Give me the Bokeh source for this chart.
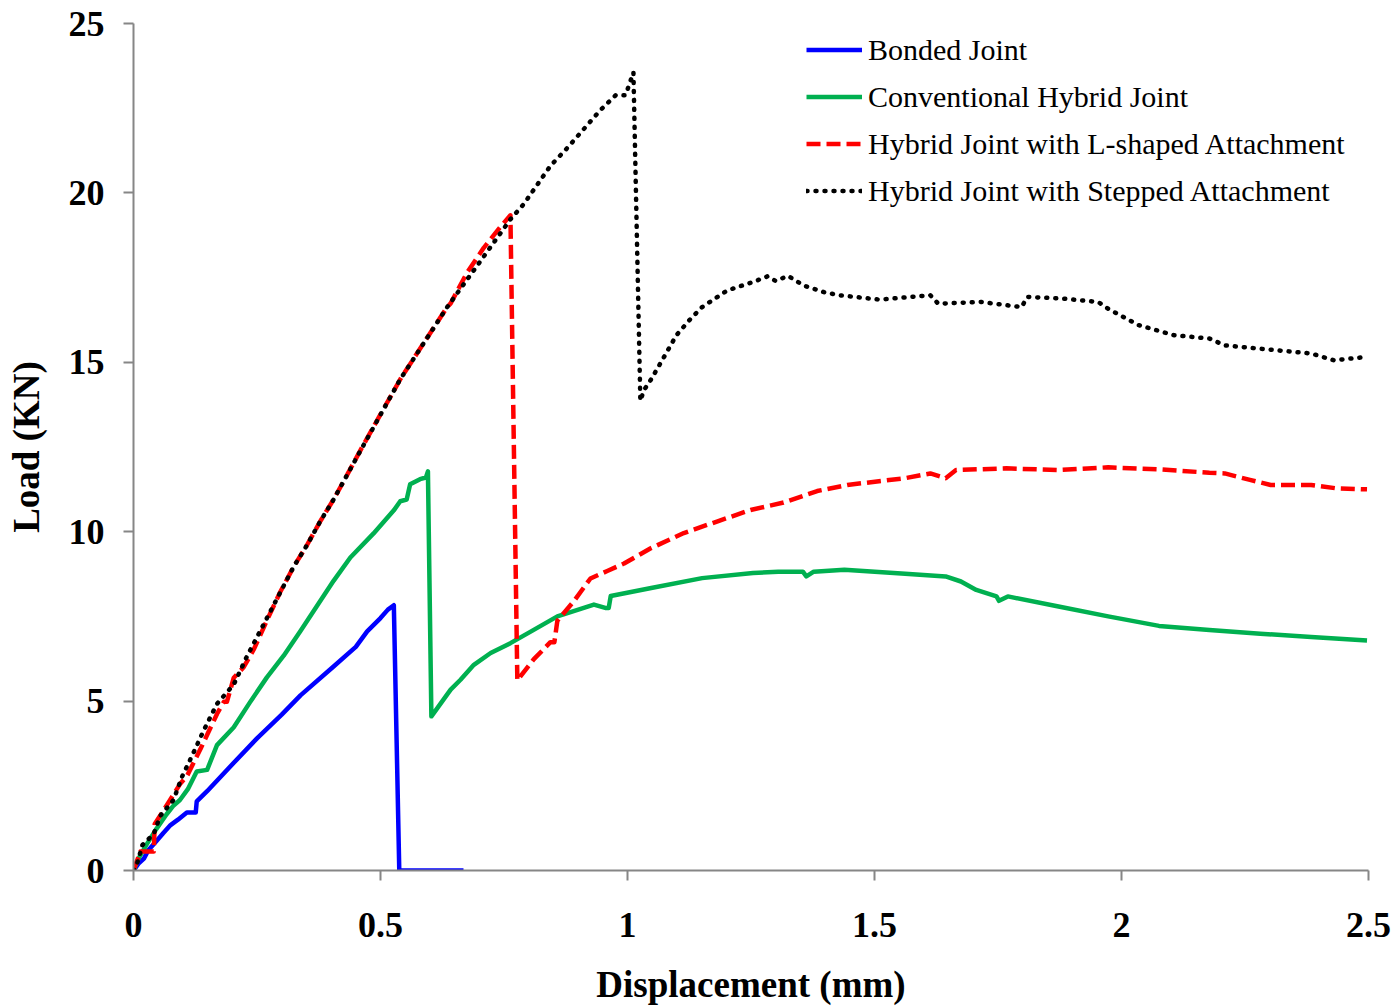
from bokeh.plotting import figure
from bokeh.models import Range1d, FixedTicker, CustomJSTickFormatter, Legend, LegendItem
from bokeh.embed import file_html
from bokeh.resources import INLINE

# ---- data ----
bonded_x = [0, 0.01, 0.021, 0.03, 0.047, 0.06, 0.075, 0.09, 0.108, 0.126, 0.128, 0.149, 0.203, 0.25,
            0.30, 0.338, 0.405, 0.45, 0.473, 0.50, 0.515, 0.527, 0.538, 0.668]
bonded_y = [0, 0.2, 0.35, 0.6, 0.88, 1.1, 1.34, 1.5, 1.71, 1.71, 2.04, 2.34, 3.18, 3.9,
            4.6, 5.17, 6.02, 6.6, 7.06, 7.45, 7.7, 7.83, 0, 0]

conv_x = [0, 0.01, 0.027, 0.045, 0.067, 0.08, 0.094, 0.11, 0.128, 0.149, 0.169, 0.203, 0.236, 0.27,
          0.304, 0.338, 0.371, 0.405, 0.439, 0.486, 0.527, 0.540, 0.553, 0.560, 0.580, 0.592, 0.596,
          0.603, 0.642, 0.662, 0.689, 0.723, 0.763, 0.804, 0.858, 0.932, 0.955, 0.962, 0.966, 1.048,
          1.151, 1.254, 1.305, 1.355, 1.362, 1.377, 1.439, 1.562, 1.644, 1.675, 1.706, 1.747, 1.752,
          1.77, 1.87, 1.973, 2.076, 2.178, 2.281, 2.384, 2.497]
conv_y = [0, 0.35, 0.78, 1.2, 1.66, 1.9, 2.08, 2.4, 2.92, 2.97, 3.7, 4.23, 4.97, 5.7,
          6.34, 7.07, 7.8, 8.55, 9.24, 9.95, 10.63, 10.9, 10.95, 11.4, 11.55, 11.6, 11.78,
          4.55, 5.34, 5.63, 6.07, 6.42, 6.71, 7.05, 7.5, 7.85, 7.75, 7.75, 8.1, 8.34,
          8.63, 8.78, 8.82, 8.82, 8.68, 8.82, 8.88, 8.76, 8.68, 8.53, 8.28, 8.09, 7.96,
          8.09, 7.8, 7.5, 7.22, 7.1, 6.99, 6.89, 6.79]

lshape_x = [0, 0.014, 0.041, 0.043, 0.068, 0.095, 0.108, 0.136, 0.169, 0.183, 0.189, 0.203, 0.223,
            0.244, 0.27, 0.297, 0.324, 0.351, 0.379, 0.405, 0.433, 0.463, 0.540, 0.635, 0.642, 0.675,
            0.709, 0.743, 0.763, 0.777, 0.810, 0.844, 0.852, 0.858, 0.891, 0.925, 0.959, 0.993, 1.047,
            1.114, 1.181, 1.249, 1.316, 1.384, 1.445, 1.562, 1.613, 1.644, 1.665, 1.767, 1.87, 1.973,
            2.076, 2.178, 2.209, 2.26, 2.302, 2.384, 2.435, 2.497]
lshape_y = [0, 0.56, 0.56, 1.37, 1.94, 2.57, 2.78, 3.6, 4.62, 4.98, 4.98, 5.69, 6.0,
            6.54, 7.38, 8.22, 8.96, 9.6, 10.33, 10.95, 11.69, 12.5, 14.5, 16.63, 16.74, 17.64,
            18.38, 19.0, 19.34, 5.61, 6.23, 6.74, 6.74, 7.37, 7.94, 8.62, 8.84, 9.06, 9.51,
            9.96, 10.30, 10.64, 10.86, 11.2, 11.38, 11.58, 11.72, 11.58, 11.82, 11.87, 11.82, 11.90,
            11.84, 11.74, 11.72, 11.53, 11.38, 11.38, 11.28, 11.25]

stepped_x = [0, 0.007, 0.018, 0.041, 0.054, 0.081, 0.098, 0.119, 0.142, 0.169, 0.203, 0.230, 0.264,
             0.29, 0.324, 0.351, 0.379, 0.405, 0.456, 0.540, 0.635, 0.702, 0.763, 0.790, 0.844, 0.874,
             0.945, 0.976, 0.996, 1.012, 1.026, 1.033, 1.048, 1.074, 1.099, 1.125, 1.151, 1.202, 1.254,
             1.284, 1.30, 1.325, 1.356, 1.398, 1.428, 1.511, 1.613, 1.629, 1.716, 1.798, 1.809, 1.881,
             1.953, 1.973, 2.034, 2.106, 2.178, 2.209, 2.281, 2.384, 2.43, 2.497]
stepped_y = [0, 0.19, 0.75, 1.08, 1.61, 2.08, 2.76, 3.4, 4.13, 4.92, 5.49, 6.33, 7.28,
             8.01, 8.96, 9.6, 10.33, 10.95, 12.3, 14.5, 16.63, 17.98, 19.22, 19.67, 20.8, 21.26,
             22.44, 22.88, 22.88, 23.56, 13.86, 14.17, 14.5, 15.16, 15.8, 16.24, 16.63, 17.12, 17.37,
             17.54, 17.4, 17.55, 17.27, 17.07, 16.98, 16.85, 16.98, 16.73, 16.78, 16.63, 16.93, 16.88,
             16.78, 16.58, 16.1, 15.8, 15.7, 15.5, 15.4, 15.26, 15.06, 15.16]

x_ticks = [0, 0.5, 1, 1.5, 2, 2.5]
y_ticks = [0, 5, 10, 15, 20, 25]
series_names = ["Bonded Joint", "Conventional Hybrid Joint",
                "Hybrid Joint with L-shaped Attachment", "Hybrid Joint with Stepped Attachment"]

FONT = "Liberation Serif"
AXIS_COLOR = "#868686"

p = figure(width=1395, height=1007, output_backend="svg", toolbar_location=None,
           x_range=Range1d(0, 2.5), y_range=Range1d(0, 25),
           min_border_left=133, min_border_right=27, min_border_top=23, min_border_bottom=129)
p.outline_line_color = None
p.xgrid.visible = False
p.ygrid.visible = False
p.background_fill_color = "white"
p.border_fill_color = "white"

r1 = p.line(bonded_x, bonded_y, line_color="#0000FF", line_width=4.5, line_join="round")
r2 = p.line(conv_x, conv_y, line_color="#00B050", line_width=4.5, line_join="round")
r3 = p.line(lshape_x, lshape_y, line_color="#FF0000", line_width=4.5, line_dash="14 6", line_join="round")
r4 = p.line(stepped_x, stepped_y, line_color="black", line_width=4.5, line_dash="1 8",
            line_cap="round", line_join="round")

fmt = CustomJSTickFormatter(code="return tick.toString();")

for ax, ticks in ((p.xaxis, x_ticks), (p.yaxis, y_ticks)):
    ax.ticker = FixedTicker(ticks=ticks)
    ax.formatter = fmt
    ax.axis_line_color = AXIS_COLOR
    ax.axis_line_width = 2
    ax.major_tick_line_color = AXIS_COLOR
    ax.major_tick_line_width = 2
    ax.major_tick_out = 10
    ax.major_tick_in = 0
    ax.minor_tick_line_color = None
    ax.major_label_text_font = FONT
    ax.major_label_text_font_style = "bold"
    ax.major_label_text_font_size = "36px"
    ax.major_label_text_color = "black"
    ax.axis_label_text_font = FONT
    ax.axis_label_text_font_style = "bold"
    ax.axis_label_text_font_size = "37px"
    ax.axis_label_text_color = "black"

p.xaxis.axis_label = "Displacement (mm)"
p.yaxis.axis_label = "Load (KN)"
p.xaxis.major_label_standoff = 32
p.yaxis.major_label_standoff = 19
p.xaxis.axis_label_standoff = 24
p.yaxis.axis_label_standoff = 19

legend = Legend(items=[LegendItem(label=series_names[0], renderers=[r1]),
                       LegendItem(label=series_names[1], renderers=[r2]),
                       LegendItem(label=series_names[2], renderers=[r3]),
                       LegendItem(label=series_names[3], renderers=[r4])],
                location=(673, 656), orientation="vertical")
legend.border_line_color = None
legend.background_fill_alpha = 0
legend.padding = 0
legend.margin = 0
legend.spacing = 0
legend.glyph_width = 56
legend.glyph_height = 47
legend.label_height = 47
legend.label_standoff = 6
legend.label_text_font = FONT
legend.label_text_font_size = "30px"
legend.label_text_color = "black"
p.add_layout(legend, "center")

open("out.html", "w").write(file_html(p, INLINE))
